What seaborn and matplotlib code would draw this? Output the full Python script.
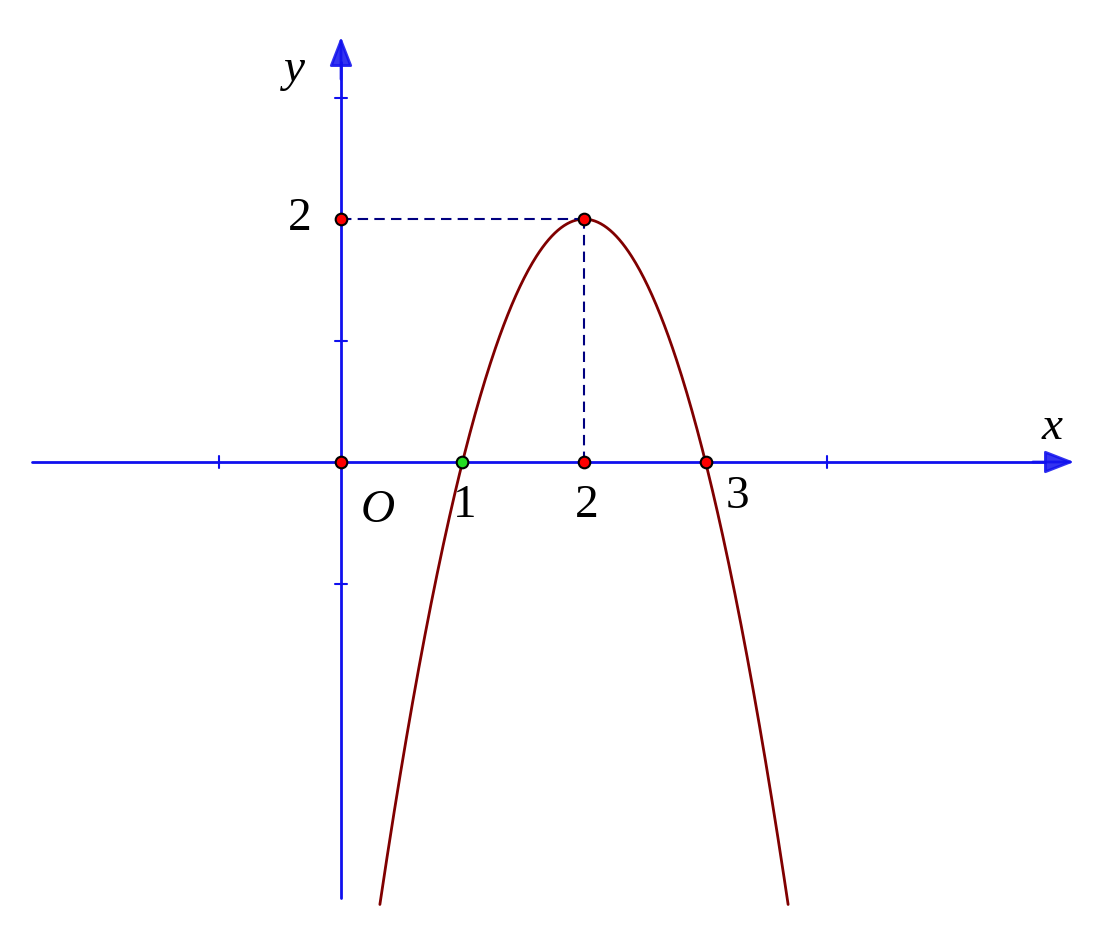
import numpy as np
import pandas as pd
import seaborn as sns
import matplotlib.pyplot as plt

sns.set_style("white")
plt.rcParams['font.family'] = ['Liberation Serif', 'DejaVu Serif']

curve_x = [0.32, 0.6, 0.9, 1.0, 1.3, 1.6, 1.8, 2.0, 2.2, 2.4, 2.7, 3.0, 3.1, 3.4, 3.68]
curve_y = [-3.64, -1.92, -0.42, 0.0, 1.02, 1.68, 1.92, 2.0, 1.92, 1.68, 1.02, 0.0, -0.42, -1.92, -3.64]
red_pts_x = [0, 0, 2, 2, 3]
red_pts_y = [0, 2, 2, 0, 0]
green_pt = (1, 0)
x_ticks = [-1, 4]
y_ticks = [-1, 1, 3]

s = 121.5
fig = plt.figure(figsize=(11.07, 9.32), dpi=100)
ax = fig.add_axes([0, 0, 1, 1])
ax.set_xlim(-341 / s, (1107 - 341) / s)
ax.set_ylim(-(932 - 462) / s, 462 / s)
ax.axis('off')

xx = np.linspace(curve_x[0], curve_x[-1], 400)
coef = np.polyfit(curve_x, curve_y, 2)
df = pd.DataFrame({'x': xx, 'y': np.polyval(coef, xx)})
sns.lineplot(data=df, x='x', y='y', ax=ax, color='#800000', lw=2, sort=False)

blue = '#1010ee'
ax.plot([-309 / s, (1045 - 341) / s], [0, 0], color=blue, lw=2)
ax.plot([0, 0], [-(898 - 462) / s, 400 / s], color=blue, lw=2)
ax.annotate('', xy=((1077 - 341) / s, 0), xytext=((1030 - 341) / s, 0),
            arrowprops=dict(arrowstyle='-|>,head_length=1.8,head_width=0.7', color=blue, lw=2, alpha=0.85))
ax.annotate('', xy=(0, 428 / s), xytext=(0, 380 / s),
            arrowprops=dict(arrowstyle='-|>,head_length=1.8,head_width=0.7', color=blue, lw=2, alpha=0.85))
for t in x_ticks:
    ax.plot([t, t], [-0.05, 0.05], color=blue, lw=1.5)
for t in y_ticks:
    ax.plot([-0.05, 0.05], [t, t], color=blue, lw=1.5)

ax.plot([0, 2], [2, 2], color='#000080', lw=1.5, ls=(0, (5, 3)))
ax.plot([2, 2], [0, 2], color='#000080', lw=1.5, ls=(0, (5, 3)))

ax.scatter(red_pts_x, red_pts_y, s=70, color='red', edgecolor='black', lw=1.5, zorder=5)
ax.scatter([green_pt[0]], [green_pt[1]], s=70, color='#22dd22', edgecolor='black', lw=1.5, zorder=5)

fs = 34
kw = dict(fontsize=fs, ha='center', va='center', color='black')
ax.text(0.30, -0.40, 'O', style='italic', **kw)
ax.text(1.02, -0.36, '1', **kw)
ax.text(2.02, -0.36, '2', **kw)
ax.text(3.26, -0.29, '3', **kw)
ax.text(-0.34, 2.0, '2', **kw)
ax.text(5.85, 0.28, 'x', style='italic', **kw)
ax.text(-0.38, 3.23, 'y', style='italic', **kw)

fig.savefig('out.png', dpi=100)
